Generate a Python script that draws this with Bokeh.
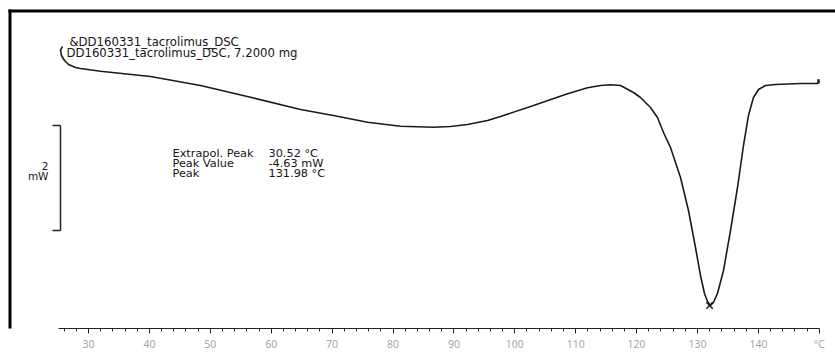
from bokeh.plotting import figure
from bokeh.models import Range1d, FixedTicker, BoxAnnotation
from bokeh.core.properties import value
from bokeh.embed import file_html
from bokeh.resources import INLINE

# ---- data ----
temperature = [25.73, 25.40, 25.57, 26.06, 26.72, 27.87, 28.69, 31.97, 40.18, 48.39,
               56.60, 64.81, 70.23, 75.81, 81.23, 86.65, 89.44, 92.23, 95.52, 97.65,
               103.07, 108.65, 111.94, 114.07, 115.71, 117.36, 119.49, 120.64, 122.28, 123.43,
               124.42, 125.57, 127.21, 128.52, 129.67, 130.49, 131.15, 131.63, 132.13, 132.62,
               133.28, 134.27, 135.42, 136.57, 137.55, 138.37, 139.19, 140.02, 141.17, 142.81,
               146.91, 149.87]
heat_flow = [0.705, 0.629, 0.533, 0.438, 0.362, 0.305, 0.286, 0.234, 0.133, -0.038,
             -0.261, -0.495, -0.610, -0.737, -0.813, -0.832, -0.819, -0.781, -0.705, -0.629,
             -0.419, -0.196, -0.082, -0.038, -0.025, -0.038, -0.171, -0.267, -0.457, -0.648,
             -0.933, -1.219, -1.790, -2.419, -3.124, -3.657, -4.000, -4.152, -4.229, -4.171,
             -4.000, -3.562, -2.800, -1.981, -1.181, -0.610, -0.267, -0.114, -0.038, -0.019,
             0.0, 0.0]
peak_temperature = [131.98]
peak_heat_flow = [-4.229]
major_ticks = [30, 40, 50, 60, 70, 80, 90, 100, 110, 120, 130, 140, 150]
minor_ticks = list(range(26, 150, 2))
tick_overrides = {150: "°C"}
header_lines = ["&DD160331_tacrolimus_DSC", "DD160331_tacrolimus_DSC, 7.2000 mg"]
result_names = ["Extrapol. Peak", "Peak Value", "Peak"]
result_values = ["30.52 °C", "-4.63 mW", "131.98 °C"]
scale_top = -0.8
scale_span = 2.0
scale_label = ["2", "mW"]

# ---- pixel helpers (canvas pixels -> data) ----
def T_at(xpx):
    return 30 + (xpx - 88) / 6.09

def mW_at(ypx):
    return (83 - ypx) / 52.5

W, H = 835, 353
p = figure(width=W, height=H, output_backend="svg", toolbar_location=None,
           x_range=Range1d(T_at(0), T_at(W)), y_range=Range1d(mW_at(328), mW_at(0)),
           y_axis_location=None, min_border_left=0, min_border_right=0,
           min_border_top=0, min_border_bottom=25)
p.grid.visible = False
p.outline_line_color = None
p.background_fill_color = "white"
p.border_fill_color = "white"

ax = p.xaxis[0]
ax.bounds = (25, 150)
ax.ticker = FixedTicker(ticks=major_ticks, minor_ticks=minor_ticks)
ax.major_label_overrides = tick_overrides
ax.axis_line_color = "#222222"
ax.axis_line_width = 1.2
ax.major_tick_line_color = "#222222"
ax.minor_tick_line_color = "#222222"
ax.major_tick_out = 5
ax.major_tick_in = 0
ax.minor_tick_out = 3
ax.minor_tick_in = 0
ax.major_label_standoff = 3
ax.major_label_text_font = "Open Sans"
ax.major_label_text_font_size = "10.5px"
ax.major_label_text_color = "#a0a0a0"

# curve
p.line(temperature, heat_flow, line_color="#1a1a1a", line_width=1.6)
p.scatter(peak_temperature, peak_heat_flow, marker="x", size=9,
          line_color="#1a1a1a", line_width=1.5)
# end flag
p.segment(x0=[temperature[-1]], y0=[heat_flow[-1]], x1=[temperature[-1]],
          y1=[heat_flow[-1] + 0.08], line_color="#1a1a1a", line_width=2.5)

# header text
p.text(x=[T_at(69), T_at(66)], y=[mW_at(41), mW_at(52)], text=header_lines,
       text_font=value("DejaVu Sans"), text_font_size="11.7px", text_color="#151515",
       text_align="left", text_baseline="middle")

# results
rows_y = [mW_at(153), mW_at(163), mW_at(173)]
p.text(x=[T_at(172)] * 3, y=rows_y, text=result_names,
       text_font=value("DejaVu Sans"), text_font_size="11.3px", text_color="#151515",
       text_align="left", text_baseline="middle")
p.text(x=[T_at(268)] * 3, y=rows_y, text=result_values,
       text_font=value("DejaVu Sans"), text_font_size="11.3px", text_color="#151515",
       text_align="left", text_baseline="middle")

# scale bar
xb = T_at(60)
xt = T_at(52)
p.segment(x0=[xb, xt, xt], y0=[scale_top, scale_top, scale_top - scale_span],
          x1=[xb, xb, xb], y1=[scale_top - scale_span, scale_top, scale_top - scale_span],
          line_color="#222222", line_width=1.5)
p.text(x=[T_at(48)] * 2, y=[mW_at(165), mW_at(175)], text=scale_label,
       text_font=value("DejaVu Sans"), text_font_size="10.5px", text_color="#151515",
       text_align="right", text_baseline="middle")

# black frame edges (top and left)
p.add_layout(BoxAnnotation(left=8, right=W, top=9, bottom=12,
                           left_units="canvas", right_units="canvas",
                           top_units="canvas", bottom_units="canvas",
                           fill_color="black", fill_alpha=1, line_color=None))
p.add_layout(BoxAnnotation(left=8, right=11, top=9, bottom=H,
                           left_units="canvas", right_units="canvas",
                           top_units="canvas", bottom_units="canvas",
                           fill_color="black", fill_alpha=1, line_color=None))

open("out.html", "w").write(file_html(p, INLINE))
